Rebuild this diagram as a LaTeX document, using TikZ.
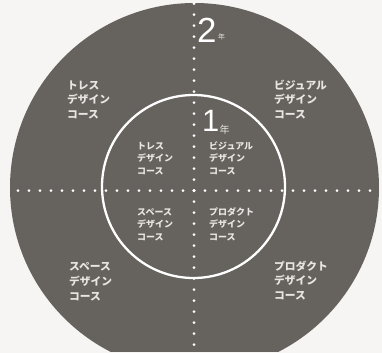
\documentclass[tikz,border=0pt]{standalone}
\usepackage{fontspec}
\setmainfont{Liberation Sans}
\newfontfamily\jpfont{Noto Sans CJK JP}
\definecolor{discgray}{RGB}{102,98,93}
\definecolor{papercol}{RGB}{246,245,243}
\definecolor{txtcol}{RGB}{232,230,226}
\tikzset{
  dotline/.style={draw=white, line width=3bp, line cap=round, dash pattern=on 0bp off 11bp},
  outertxt/.style={anchor=base west, inner sep=0pt, text=txtcol, font=\jpfont\bfseries\fontsize{10.8}{13}\selectfont},
  innertxt/.style={anchor=base west, inner sep=0pt, text=txtcol, font=\jpfont\bfseries\fontsize{9}{11}\selectfont},
  bignum/.style={anchor=base west, inner sep=0pt, text=white},
  yearmark/.style={anchor=base west, inner sep=0pt, text=txtcol},
}
% block: style, name, x, y(baseline of line 1), pitch, line1
\newcommand{\courseblk}[6]{%
  \node[#1] (#2a) at (#3,#4) {#6};
  \node[#1] (#2b) at (#3,#4+#5) {デザイン};
  \node[#1] (#2c) at (#3,#4+2*#5) {コース};
}
\begin{document}
\begin{tikzpicture}[x=1bp,y=-1bp]
  \useasboundingbox (0,0) rectangle (382,353);
  \fill[papercol] (0,0) rectangle (382,353);
  \begin{scope}
    \clip (0,0) rectangle (382,351);
    \fill[discgray] (194.5,187.5) circle (184.5);
  \end{scope}
  % dotted axes
  \coordinate (c) at (194,190.5);
  \coordinate (le) at (12,190.5);
  \coordinate (ri) at (380,190.5);
  \coordinate (tp) at (194,3);
  \coordinate (bt) at (194,350);
  \draw[dotline] (c) -- (le);
  \draw[dotline] (c) -- (ri);
  \draw[dotline] (c) -- (tp);
  \draw[dotline] (c) -- (bt);
  % inner circle
  \draw[white, line width=2.3bp] (193.5,186.5) circle (91.5);
  % year labels
  \node[bignum, font=\fontsize{35}{35}\selectfont] (two) at (197,42.5) {2};
  \node[yearmark, font=\jpfont\fontsize{7}{7}\selectfont] (twoy) at (218,39) {年};
  \node[bignum, font=\fontsize{31}{31}\selectfont] (one) at (202,131.5) {1};
  \node[yearmark, font=\jpfont\fontsize{10}{10}\selectfont] (oney) at (219.5,133) {年};
  % outer course blocks
  \courseblk{outertxt}{otl}{67}{89}{14.8}{トレス}
  \courseblk{outertxt}{otr}{274}{89}{14.8}{ビジュアル}
  \courseblk{outertxt}{obl}{69}{270.5}{14.8}{スペース}
  \courseblk{outertxt}{obr}{274}{270}{14.8}{プロダクト}
  % inner course blocks
  \courseblk{innertxt}{itl}{137}{149}{12.8}{トレス}
  \courseblk{innertxt}{itr}{209}{149}{12.8}{ビジュアル}
  \courseblk{innertxt}{ibl}{137}{215}{12.8}{スペース}
  \courseblk{innertxt}{ibr}{209}{215}{12.8}{プロダクト}
\end{tikzpicture}
\end{document}
